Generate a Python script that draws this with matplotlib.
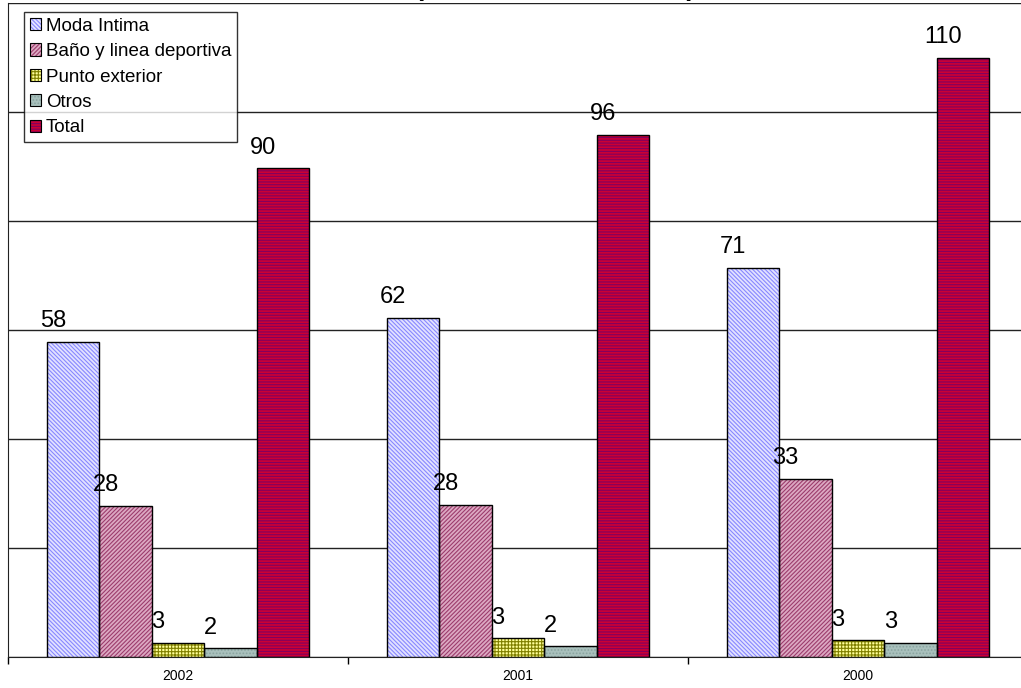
import matplotlib
matplotlib.use("Agg")
import matplotlib.pyplot as plt
from matplotlib.patches import Patch
from matplotlib.legend_handler import HandlerTuple
import numpy as np

plt.rcParams['font.family'] = ['Liberation Sans', 'DejaVu Sans']
plt.rcParams['hatch.linewidth'] = 0.8

years = ["2002", "2001", "2000"]
series_names = ["Moda Intima", "Baño y linea deportiva", "Punto exterior", "Otros", "Total"]
moda = [57.8, 62.2, 71.4]
bano = [27.7, 27.9, 32.7]
punto = [2.6, 3.4, 3.1]
otros = [1.6, 2.0, 2.6]
total = [89.7, 95.8, 109.9]
values = [moda, bano, punto, otros, total]

faces = ['#e2e2ff', '#dca8c2', '#ffff99', '#a8c0bc', '#cc0033']
hatch_colors = ['#8888ff', '#9c3c6c', '#808000', '#8aa4a0', '#800060']
hatches = ['\\' * 8, '/' * 8, '+' * 5, '.' * 5, '-' * 6]

fig = plt.figure(figsize=(10.21, 6.88), dpi=100)
W, H = 1021, 688
ax = fig.add_axes([8 / W, (H - 657) / H, 1020 / W, 654 / H])

x = np.arange(len(years))
w = 0.154
for k, vals in enumerate(values):
    pos = x + (k - 2) * w
    ax.bar(pos, vals, w, color=faces[k], edgecolor=hatch_colors[k], linewidth=0,
           hatch=hatches[k], zorder=3)
    ax.bar(pos, vals, w, fill=False, edgecolor='black', linewidth=1.0, zorder=3.1)
    for p, v in zip(pos, vals):
        ax.annotate(f"{v:.0f}", (p, v), xytext=(-14.4, 10.5), textcoords='offset points',
                    ha='center', va='baseline', fontsize=17, color='black',
                    zorder=2.5 if k == 2 else 4)

ax.set_xlim(-0.5, 2.5)
ax.set_ylim(0, 120)
ax.set_yticks(np.arange(0, 121, 20))
ax.set_yticklabels([])
ax.tick_params(axis='y', length=0)
ax.yaxis.grid(True, color='#222222', linewidth=1.0, zorder=0)
ax.set_axisbelow(True)

ax.set_xticks(x)
ax.set_xticklabels(years, fontsize=10)
ax.tick_params(axis='x', which='major', length=0, pad=9)
ax.set_xticks([-0.5, 0.5, 1.5, 2.5], minor=True)
ax.tick_params(axis='x', which='minor', length=5, width=1, color='black', direction='out')

for s in ['top', 'right']:
    ax.spines[s].set_visible(False)
ax.spines['left'].set_color('#222222')
ax.spines['bottom'].set_color('#222222')

handles = []
for k in range(5):
    hp = Patch(facecolor=faces[k], edgecolor=hatch_colors[k], linewidth=0, hatch=hatches[k])
    op = Patch(fill=False, edgecolor='black', linewidth=0.8)
    handles.append((hp, op))
leg = ax.legend(handles, series_names, handler_map={tuple: HandlerTuple(ndivide=1, pad=0)},
                loc='upper left', bbox_to_anchor=((24 - 8) / 1020, (657 - 12) / 654),
                borderaxespad=0, fontsize=13.5, frameon=True, fancybox=False,
                handlelength=0.62, handleheight=0.62, handletextpad=0.25,
                labelspacing=0.45, borderpad=0.3)
leg.get_frame().set_edgecolor('black')
leg.get_frame().set_linewidth(1.0)
leg.set_zorder(5)

fig.text(555 / W, 1.0 + 4 / H, "(en millones de euros)", ha='center', va='baseline',
         fontsize=19, fontweight='bold')

fig.savefig("out.png", dpi=100)
